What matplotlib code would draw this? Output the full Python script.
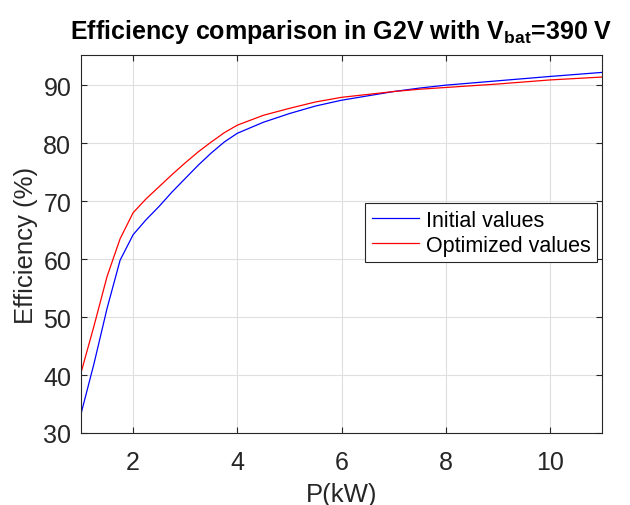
import matplotlib
matplotlib.use('Agg')
import matplotlib.pyplot as plt

# power levels (kW) and efficiencies (%)
p_kw = [1, 1.25, 1.5, 1.75, 2, 2.25, 2.5, 2.75, 3, 3.25, 3.5, 3.75, 4, 4.5, 5,
        5.5, 6, 7, 7.5, 8, 9, 10, 11]
eff_initial = [33.3, 42.0, 51.5, 59.8, 64.2, 66.8, 69.1, 71.6, 73.9, 76.2, 78.3,
               80.2, 81.7, 83.6, 85.1, 86.4, 87.4, 88.9, 89.5, 90.0, 90.75, 91.5, 92.2]
eff_optimized = [40.4, 48.5, 57.0, 63.5, 68.0, 70.4, 72.5, 74.6, 76.6, 78.5, 80.2,
                 81.8, 83.1, 84.8, 86.0, 87.1, 87.9, 88.9, 89.3, 89.6, 90.2, 90.9, 91.4]

plt.rcParams['font.family'] = 'Liberation Sans'
plt.rcParams['mathtext.fontset'] = 'custom'
plt.rcParams['mathtext.bf'] = 'Liberation Sans:bold'
plt.rcParams['mathtext.rm'] = 'Liberation Sans'

dark = '#262626'

fig = plt.figure(figsize=(6.3, 5.06), dpi=100)
ax = fig.add_axes([0.1286, 0.1423, 0.827, 0.747])

ax.plot(p_kw, eff_initial, color='blue', linewidth=0.9, label='Initial values')
ax.plot(p_kw, eff_optimized, color='red', linewidth=0.9, label='Optimized values')

ax.set_xlim(1, 11)
ax.set_ylim(30, 95.2)
ax.set_xticks([2, 4, 6, 8, 10])
ax.set_yticks([30, 40, 50, 60, 70, 80, 90])

ax.grid(True, color='#dfdfdf', linewidth=0.8)
ax.set_axisbelow(True)
ax.tick_params(direction='in', top=True, right=True, length=4, width=0.8,
               labelsize=18, colors=dark)
ax.tick_params(axis='x', pad=12)
ax.tick_params(axis='y', pad=7)
for s in ax.spines.values():
    s.set_color(dark)
    s.set_linewidth(0.8)

ax.set_xlabel('P(kW)', fontsize=18.5, color=dark, labelpad=6)
ax.set_ylabel('Efficiency (%)', fontsize=18.5, color=dark, labelpad=4)
ax.set_title(r'Efficiency comparison in G2V with V$_{\mathbf{bat}}$=390 V',
             fontsize=18, fontweight='bold', pad=12)

leg = ax.legend(loc='upper right', bbox_to_anchor=(0.99, 0.608), fontsize=15.5,
                fancybox=False, framealpha=1, edgecolor=dark, handlelength=2.2,
                borderpad=0.3, labelspacing=0.2, handletextpad=0.3,
                borderaxespad=0)
leg.get_frame().set_linewidth(0.8)

fig.savefig('out.png', dpi=100)
